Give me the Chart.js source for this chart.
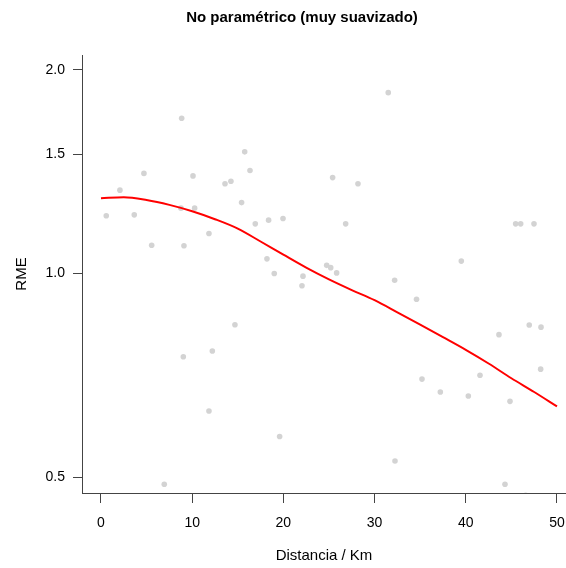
<!DOCTYPE html>
<html>
<head>
<meta charset="utf-8">
<script src="https://cdn.jsdelivr.net/npm/chart.js@4.4.1/dist/chart.umd.min.js"></script>
<style>
  html, body { margin: 0; padding: 0; background: #fff; }
  #wrap { width: 566px; height: 568px; }
</style>
</head>
<body>
<div id="wrap"><canvas id="rme-graph"></canvas></div>
<script>
// observed points: distance (km) and RME
var distancia = [0.58, 2.08, 3.65, 4.71, 5.56, 6.94, 8.77, 8.85, 9.03, 9.10,
    10.09, 10.27, 11.84, 11.84, 12.21, 13.60, 14.25, 14.69, 15.42, 15.76,
    16.34, 16.92, 18.20, 18.38, 19.00, 19.59, 19.96, 22.04, 22.15, 24.75,
    25.19, 25.40, 25.84, 26.83, 28.18, 31.50, 32.20, 32.24, 34.60, 35.20,
    37.21, 39.51, 40.28, 41.56, 43.64, 44.30, 44.85, 45.47, 46.02, 46.57,
    46.96, 47.48, 48.21, 48.25];
var rme = [1.217, 1.328, 1.221, 1.406, 1.101, 0.488, 1.249, 1.696, 0.753, 1.099,
    1.394, 1.249, 1.146, 0.626, 0.768, 1.357, 1.369, 0.840, 1.273, 1.513,
    1.420, 1.184, 1.051, 1.199, 1.000, 0.574, 1.206, 0.959, 0.991, 1.028,
    1.020, 1.386, 1.002, 1.184, 1.357, 1.851, 0.977, 0.528, 0.916, 0.698,
    0.668, 1.043, 0.659, 0.707, 0.812, 0.488, 0.647, 1.184, 1.184, 0.470,
    0.839, 1.184, 0.722, 0.833];

// smoothed fit
var suaveX = [0, 2.5, 5, 7.5, 10, 12.5, 15, 17.5, 20, 22.5, 25, 27.5, 30,
    32.5, 35, 37.5, 40, 42.5, 45, 47.5, 50];
var suaveY = [1.292, 1.296, 1.284, 1.263, 1.236, 1.203, 1.165, 1.115, 1.066,
    1.020, 0.980, 0.945, 0.913, 0.876, 0.840, 0.805, 0.771, 0.736, 0.700,
    0.668, 0.636];

var xTicks = [0, 10, 20, 30, 40, 50];
var yTicks = [0.5, 1.0, 1.5, 2.0];

var titulo = 'No paramétrico (muy suavizado)';

var puntos = distancia.map(function(d, i) { return {x: d, y: rme[i]}; });
var curva = suaveX.map(function(d, i) { return {x: d, y: suaveY[i]}; });

var fuente = "'Liberation Sans', Arial, sans-serif";
var ejeColor = '#444';

// R-style title, centred over the plot region rather than the canvas
var tituloPlugin = {
    id: 'tituloR',
    afterDraw: function(chart) {
        var c = chart.ctx;
        c.save();
        c.font = 'bold 15px ' + fuente;
        c.fillStyle = '#000';
        c.textAlign = 'center';
        c.textBaseline = 'middle';
        c.fillText(titulo, 302, 18);
        c.restore();
    }
};

var ctx = document.getElementById('rme-graph');

var myChart = new Chart(ctx, {
    type: 'scatter',
    data: {
        datasets: [{
            label: 'RME',
            data: puntos,
            backgroundColor: '#d3d3d3',
            borderWidth: 0,
            pointRadius: 2.8,
            clip: 0,
            order: 2
        },
        {
            label: 'suavizado',
            type: 'line',
            data: curva,
            borderColor: '#ff0000',
            borderWidth: 2,
            pointRadius: 0,
            fill: false,
            cubicInterpolationMode: 'monotone',
            clip: 0,
            order: 1
        }]
    },
    plugins: [tituloPlugin],
    options: {
        responsive: true,
        maintainAspectRatio: false,
        animation: false,
        layout: { autoPadding: false, padding: { top: 55, left: 0, right: 0, bottom: 0 } },
        plugins: {
            legend: { display: false },
            tooltip: { enabled: false },
            title: { display: false }
        },
        scales: {
            x: {
                type: 'linear',
                min: -2.08,
                max: 50.99,
                afterBuildTicks: function(scale) {
                    scale.ticks = xTicks.map(function(v) { return {value: v}; });
                },
                afterFit: function(scale) {
                    scale.height = 75;
                    scale.paddingLeft = 0;
                    scale.paddingRight = 0;
                },
                grid: { drawOnChartArea: false, drawTicks: true, tickLength: 10, color: ejeColor },
                border: { display: true, color: ejeColor, width: 1 },
                ticks: {
                    color: '#000',
                    padding: 12,
                    maxRotation: 0,
                    font: { family: fuente, size: 14 }
                },
                title: {
                    display: true,
                    text: 'Distancia / Km',
                    color: '#000',
                    font: { family: fuente, size: 15 },
                    padding: { top: 0, bottom: 3 }
                }
            },
            y: {
                type: 'logarithmic',
                min: 0.4736,
                max: 2.104,
                afterBuildTicks: function(scale) {
                    scale.ticks = yTicks.map(function(v) { return {value: v}; });
                },
                afterFit: function(scale) {
                    scale.width = 82;
                    scale.paddingTop = 0;
                    scale.paddingBottom = 0;
                },
                grid: { drawOnChartArea: false, drawTicks: true, tickLength: 9, color: ejeColor },
                border: { display: true, color: ejeColor, width: 1 },
                ticks: {
                    color: '#000',
                    padding: 8,
                    font: { family: fuente, size: 14 },
                    callback: function(v) { return Number(v).toFixed(1); }
                },
                title: {
                    display: true,
                    text: 'RME',
                    color: '#000',
                    font: { family: fuente, size: 15 },
                    padding: { top: 13, bottom: 0 }
                }
            }
        }
    }
});
</script>
</body>
</html>
